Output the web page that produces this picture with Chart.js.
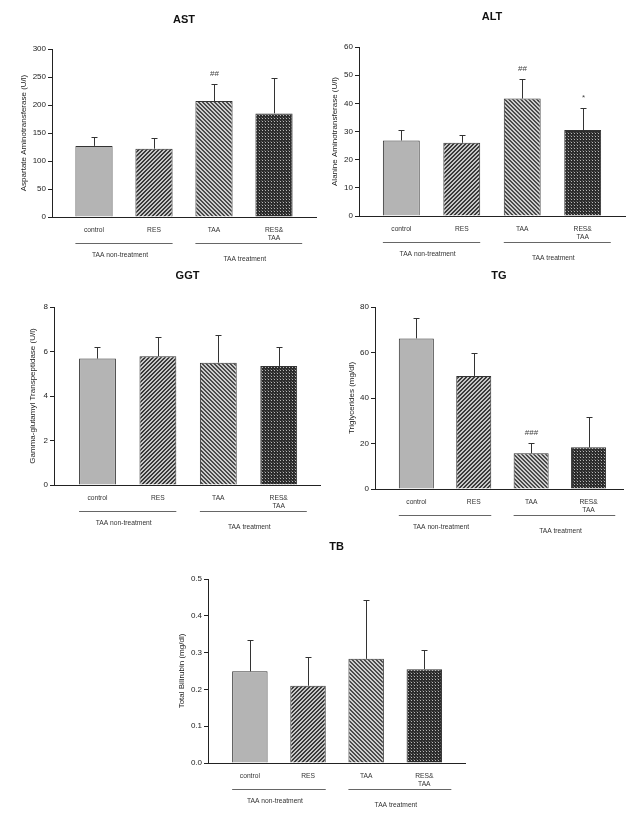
<!DOCTYPE html>
<html>
<head>
<meta charset="utf-8">
<script src="https://cdn.jsdelivr.net/npm/chart.js@4.4.1/dist/chart.umd.min.js"></script>
<style>
  html, body { margin: 0; padding: 0; background: #fff; }
  #page { position: relative; width: 642px; height: 819px; overflow: hidden; }
  canvas { position: absolute; }
</style>
</head>
<body>
<div id="page"></div>
<script>
// groups on the x axis, and the two treatment brackets under them
const groups = [['control'], ['RES'], ['TAA'], ['RES&', 'TAA']];
const treatments = ['TAA non-treatment', 'TAA treatment'];

// AST
const astMean = [127, 122, 207, 185];
const astSD = [16, 19, 31, 63];
const astSig = ['', '', '##', ''];
const astTicks = [0, 50, 100, 150, 200, 250, 300];

// ALT
const altMean = [26.8, 26.0, 41.7, 30.5];
const altSD = [3.6, 2.8, 7.1, 8.0];
const altSig = ['', '', '##', '*'];
const altTicks = [0, 10, 20, 30, 40, 50, 60];

// GGT
const ggtMean = [5.68, 5.79, 5.50, 5.35];
const ggtSD = [0.52, 0.86, 1.26, 0.87];
const ggtSig = ['', '', '', ''];
const ggtTicks = [0, 2, 4, 6, 8];

// TG
const tgMean = [66.2, 49.7, 15.7, 18.3];
const tgSD = [8.8, 9.9, 4.7, 13.5];
const tgSig = ['', '', '###', ''];
const tgTicks = [0, 20, 40, 60, 80];

// TB
const tbMean = [0.249, 0.210, 0.283, 0.255];
const tbSD = [0.084, 0.078, 0.161, 0.053];
const tbSig = ['', '', '', ''];
const tbTicks = [0, 0.1, 0.2, 0.3, 0.4, 0.5];

Chart.defaults.font.family = "'Liberation Sans', Arial, sans-serif";
Chart.defaults.color = '#222';

function makePattern(size, paint) {
  const c = document.createElement('canvas');
  c.width = c.height = size;
  const g = c.getContext('2d');
  paint(g, size);
  return g.createPattern(c, 'repeat');
}

// fills: plain grey, "/" hatch, "\" hatch, dark dotted
const fills = [
  '#b4b4b4',
  makePattern(4, (g, n) => {
    g.fillStyle = '#c6c6c6'; g.fillRect(0, 0, n, n);
    g.fillStyle = '#3a3a3a';
    for (let x = 0; x < n; x++) for (let y = 0; y < n; y++)
      if ((x + y) % n === 3 || (x + y) % n === 0) g.fillRect(x, y, 1, 1);
  }),
  makePattern(4, (g, n) => {
    g.fillStyle = '#cccccc'; g.fillRect(0, 0, n, n);
    g.fillStyle = '#4a4a4a';
    for (let x = 0; x < n; x++) for (let y = 0; y < n; y++)
      if ((x - y + n) % n === 0 || (x - y + n) % n === 1) g.fillRect(x, y, 1, 1);
  }),
  makePattern(3, (g, n) => {
    g.fillStyle = '#2c2c2c'; g.fillRect(0, 0, n, n);
    g.fillStyle = '#b8b8b8'; g.fillRect(1, 1, 1, 1);
    g.fillStyle = '#5a5a5a'; g.fillRect(0, 0, 1, 1);
  })
];

function makeDecor(p) {
  return {
    id: 'decor',
    afterDatasetsDraw(chart) {
      const { ctx, scales: { y } } = chart;
      const bars = chart.getDatasetMeta(0).data;
      ctx.save();
      ctx.strokeStyle = '#333';
      ctx.lineWidth = 1;
      ctx.fillStyle = '#444';
      ctx.font = "8px 'Liberation Sans', Arial, sans-serif";
      ctx.textAlign = 'center';
      ctx.textBaseline = 'middle';
      bars.forEach((bar, i) => {
        const cx = Math.round(bar.x) + 0.5;
        const top = Math.round(y.getPixelForValue(p.mean[i] + p.sd[i])) + 0.5;
        ctx.beginPath();
        ctx.moveTo(cx, bar.y);
        ctx.lineTo(cx, top);
        ctx.moveTo(cx - 3, top);
        ctx.lineTo(cx + 3, top);
        ctx.stroke();
        if (p.sig[i]) ctx.fillText(p.sig[i], cx, top - 11);
      });
      ctx.restore();
    },
    afterDraw(chart) {
      const { ctx, chartArea: a, scales: { x } } = chart;
      ctx.save();
      ctx.fillStyle = '#111';
      ctx.textAlign = 'center';
      ctx.textBaseline = 'middle';
      ctx.font = "bold 11px 'Liberation Sans', Arial, sans-serif";
      ctx.fillText(p.title, (a.left + a.right) / 2, p.titleY - p.box[1]);

      ctx.fillStyle = '#333';
      ctx.font = "6.7px 'Liberation Sans', Arial, sans-serif";
      groups.forEach((lines, i) => {
        const cx = x.getPixelForValue(i + 1);
        lines.forEach((t, k) => ctx.fillText(t, cx, a.bottom + 13.5 + k * 8));
      });

      const half = p.barFrac / 2;
      const spans = [[1 - half, 2 + half], [3 - half, 4 + half + 0.16]];
      ctx.strokeStyle = '#666';
      ctx.lineWidth = 1;
      const ly = Math.round(a.bottom + 26) + 0.5;
      spans.forEach((s, k) => {
        const x0 = x.getPixelForValue(s[0]);
        const x1 = x.getPixelForValue(s[1]);
        ctx.beginPath();
        ctx.moveTo(x0, ly);
        ctx.lineTo(x1, ly);
        ctx.stroke();
        ctx.fillText(treatments[k], (x0 + x1) / 2 - 4, a.bottom + (k === 0 ? 38.5 : 42));
      });
      ctx.restore();
    }
  };
}

const panels = [
  { title: 'AST', yTitle: 'Aspartate Aminotransferase (U/l)', mean: astMean, sd: astSD, sig: astSig, ticks: astTicks, dec: 0,
    box: [0, 0, 321, 270], area: [52, 49, 316, 217], titleY: 20, yTitleX: 24, xMin: 0.3, xMax: 4.7, barFrac: 0.62 },
  { title: 'ALT', yTitle: 'Alanine Aminotransferase (U/l)', mean: altMean, sd: altSD, sig: altSig, ticks: altTicks, dec: 0,
    box: [321, 0, 321, 270], area: [359, 47, 625, 216], titleY: 17, yTitleX: 335, xMin: 0.3, xMax: 4.7, barFrac: 0.61 },
  { title: 'GGT', yTitle: 'Gamma-glutamyl Transpeptidase (U/l)', mean: ggtMean, sd: ggtSD, sig: ggtSig, ticks: ggtTicks, dec: 0,
    box: [0, 270, 321, 270], area: [54, 307, 321, 485], titleY: 276, yTitleX: 33, xMin: 0.28, xMax: 4.7, barFrac: 0.61 },
  { title: 'TG', yTitle: 'Triglycerides (mg/dl)', mean: tgMean, sd: tgSD, sig: tgSig, ticks: tgTicks, dec: 0,
    box: [321, 270, 321, 270], area: [375, 307, 623, 489], titleY: 276, yTitleX: 352, xMin: 0.28, xMax: 4.6, barFrac: 0.61 },
  { title: 'TB', yTitle: 'Total Bilirubin (mg/dl)', mean: tbMean, sd: tbSD, sig: tbSig, ticks: tbTicks, dec: 1,
    box: [140, 540, 360, 279], area: [208, 579, 465, 763], titleY: 547, yTitleX: 182, xMin: 0.28, xMax: 4.7, barFrac: 0.61 }
];

function drawPanel(p) {
  const [bx, by, bw, bh] = p.box;
  const [al, at, ar, ab] = p.area;
  const cv = document.createElement('canvas');
  cv.width = bw;
  cv.height = bh;
  cv.style.left = bx + 'px';
  cv.style.top = by + 'px';
  document.getElementById('page').appendChild(cv);

  new Chart(cv, {
    type: 'bar',
    data: {
      datasets: [{
        data: p.mean.map((v, i) => ({ x: i + 1, y: v })),
        backgroundColor: fills,
        borderColor: '#333',
        borderWidth: 1,
        barPercentage: p.barFrac,
        categoryPercentage: 1
      }]
    },
    options: {
      responsive: false,
      animation: false,
      devicePixelRatio: 1,
      layout: { padding: { left: 0, top: at - by, right: bx + bw - ar, bottom: 0 } },
      plugins: { legend: { display: false }, tooltip: { enabled: false } },
      scales: {
        x: {
          type: 'linear',
          min: p.xMin,
          max: p.xMax,
          bounds: 'data',
          offset: false,
          ticks: { display: false, stepSize: 1, includeBounds: false },
          grid: { display: false, offset: false },
          border: { color: '#222', width: 1 },
          afterBuildTicks: s => { s.ticks = groups.map((g, i) => ({ value: i + 1 })); },
          afterFit: s => { s.height = by + bh - ab; }
        },
        y: {
          min: p.ticks[0],
          max: p.ticks[p.ticks.length - 1],
          ticks: {
            stepSize: p.ticks[1] - p.ticks[0],
            padding: 2,
            font: { size: 8 },
            color: '#222',
            callback: v => Number(v).toFixed(p.dec)
          },
          grid: { drawOnChartArea: false, tickLength: 4, color: '#222' },
          border: { color: '#222', width: 1 },
          title: {
            display: true,
            text: p.yTitle,
            font: { size: 8 },
            color: '#222',
            padding: { top: p.yTitleX - bx - 4.8, bottom: 0 }
          },
          afterFit: s => { s.width = al - bx; }
        }
      }
    },
    plugins: [makeDecor(p)]
  });
}

panels.forEach(drawPanel);
</script>
</body>
</html>
